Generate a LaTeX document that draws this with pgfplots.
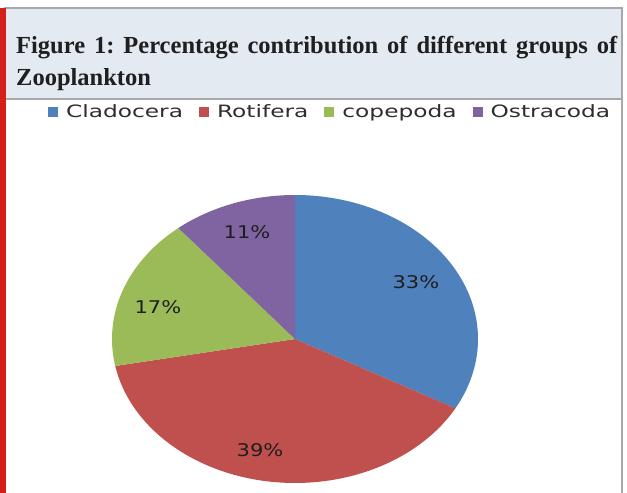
\documentclass[border=0pt]{standalone}
\usepackage{fontspec}
\usepackage{pgfplots}
\pgfplotsset{compat=1.18}
\setmainfont{Liberation Serif}
\newfontfamily\legendfont{DejaVu Sans}[FakeStretch=1.37]
\newfontfamily\labelfont{DejaVu Sans}[FakeStretch=1.2]
\definecolor{cblue}{HTML}{4F81BD}
\definecolor{cred}{HTML}{C0504D}
\definecolor{cgreen}{HTML}{9BBB59}
\definecolor{cpurple}{HTML}{8064A2}
\definecolor{titlebg}{HTML}{E4EAF2}
\definecolor{bordergray}{HTML}{A8A8A8}
\definecolor{redbar}{HTML}{D4201A}
\definecolor{labeltext}{HTML}{1E1E1E}
\frenchspacing
\begin{document}
\begin{tikzpicture}
\useasboundingbox (0bp,0bp) rectangle (627bp,493bp);
\fill[white] (0bp,0bp) rectangle (627bp,493bp);
\fill[titlebg] (5bp,394bp) rectangle (622bp,485bp);
\draw[bordergray, line width=1.5bp] (5bp,394bp) rectangle (622bp,485bp);
\draw[bordergray, line width=1.5bp] (622bp,394bp) -- (622bp,0bp);
\fill[redbar] (0bp,0bp) rectangle (5.5bp,485bp);
\node[anchor=base west, inner sep=0, font=\fontsize{24.5bp}{30bp}\selectfont\bfseries, text=black!88] at (16bp,439bp) {\makebox[601bp][s]{Figure 1: Percentage contribution of different groups of}};
\node[anchor=base west, inner sep=0, font=\fontsize{24.5bp}{30bp}\selectfont\bfseries, text=black!88] at (16bp,407bp) {Zooplankton};
\begin{axis}[at={(112bp,10bp)}, anchor=south west, scale only axis,
  width=366bp, height=288bp, xmin=-1, xmax=1, ymin=-1, ymax=1,
  axis lines=none, clip=false,
  legend columns=4,
  legend image code/.code={\fill[#1] (0bp,-4.5bp) rectangle (10bp,5.5bp);},
  legend style={at={(0.596,1.288)}, anchor=center, draw=none, fill=none,
    font=\legendfont\fontsize{17bp}{20bp}\selectfont, text=black!82,
    legend cell align=left,
    /tikz/every odd column/.append style={column sep=6bp},
    /tikz/every even column/.append style={column sep=14bp}},
]
\addplot[fill=cblue, draw=none, domain={90-3.6*33}:90, samples=90, variable=\t] ({cos(t)},{sin(t)}) -- (axis cs:0,0) -- cycle;
\addlegendentry{Cladocera}
\addplot[fill=cred, draw=none, domain={90-3.6*(33+39)}:{90-3.6*33}, samples=100, variable=\t] ({cos(t)},{sin(t)}) -- (axis cs:0,0) -- cycle;
\addlegendentry{Rotifera}
\addplot[fill=cgreen, draw=none, domain={90-3.6*(33+39+17)}:{90-3.6*(33+39)}, samples=60, variable=\t] ({cos(t)},{sin(t)}) -- (axis cs:0,0) -- cycle;
\addlegendentry{copepoda}
\addplot[fill=cpurple, draw=none, domain={90-3.6*100}:{90-3.6*(33+39+17)}, samples=40, variable=\t] ({cos(t)},{sin(t)}) -- (axis cs:0,0) -- cycle;
\addlegendentry{Ostracoda}
\node[font=\labelfont\fontsize{17.5bp}{20bp}\selectfont, text=labeltext] at (axis cs:0.661,0.396) {33\%};
\node[font=\labelfont\fontsize{17.5bp}{20bp}\selectfont, text=labeltext] at (axis cs:-0.191,-0.771) {39\%};
\node[font=\labelfont\fontsize{17.5bp}{20bp}\selectfont, text=labeltext] at (axis cs:-0.749,0.222) {17\%};
\node[font=\labelfont\fontsize{17.5bp}{20bp}\selectfont, text=labeltext] at (axis cs:-0.262,0.743) {11\%};
\end{axis}
\end{tikzpicture}
\end{document}
